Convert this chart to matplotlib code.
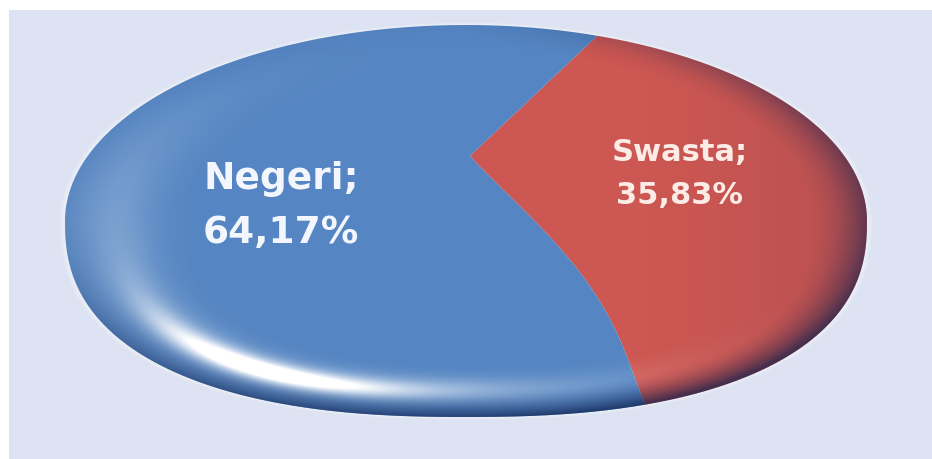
import numpy as np
import matplotlib.pyplot as plt
from matplotlib.patches import Rectangle, PathPatch
from matplotlib.path import Path
from matplotlib.transforms import Transform

# Share of schools by status (percent)
LABELS = ["Swasta", "Negeri"]
SHARES = [35.83, 64.17]
COLORS = ["#cd5752", "#5585c2"]
TEXT_COLORS = ["#fdebe6", "#f3f7fd"]

W, H = 932, 460
K = 0.55          # vertical foreshortening of the tilted disc
BG = "#dde3f2"

# disc outline and pie centre, in pixel units
CX, CY, A, B = 466, 222, 401, 196
N_LOW = 2.4       # lower half is fuller than an ellipse (disc thickness)
TIP = (470, 157)


def px(x, y):
    """pixel position -> data coordinates of the foreshortened axes"""
    return x, -y / K


class RimBend(Transform):
    """Bends slice edges as they run over the rounded rim."""
    input_dims = output_dims = 2

    def transform_non_affine(self, xy):
        xy = np.array(xy, dtype=float)
        py = -xy[:, 1] * K
        s = np.clip((py - TIP[1]) / (418 - TIP[1]), 0, 1)
        xy[:, 0] += 30 * np.sin(np.pi * s) ** 1.2
        return xy

    def transform_path_non_affine(self, path):
        polys = path.to_polygons(closed_only=True)
        verts, codes = [], []
        for poly in polys:
            dense = []
            for p0, p1 in zip(poly[:-1], poly[1:]):
                tt = np.linspace(0, 1, 80, endpoint=False)[:, None]
                dense.append(p0 + (p1 - p0) * tt)
            dense.append(poly[-1:])
            dense = np.vstack(dense)
            verts.append(self.transform_non_affine(dense))
            c = np.full(len(dense), Path.LINETO)
            c[0] = Path.MOVETO
            codes.append(c)
        return Path(np.vstack(verts), np.concatenate(codes))


fig = plt.figure(figsize=(W / 100, H / 100), dpi=100)
fig.patch.set_facecolor("white")
ax = fig.add_axes([0, 0, 1, 1])
ax.axis("off")

ax.add_patch(Rectangle(px(9, H + 20), W + 20, (H + 20 - 11) / K, facecolor=BG,
                       edgecolor="none", zorder=0))

# outline of the disc: elliptic top, fuller bottom
ang = np.linspace(0, 2 * np.pi, 721)
cu, sv = np.cos(ang), np.sin(ang)
ou = np.sign(cu) * np.abs(cu) ** np.where(sv > 0, 2 / N_LOW, 1.0)
ov = np.sign(sv) * np.abs(sv) ** np.where(sv > 0, 2 / N_LOW, 1.0)
outline = np.column_stack([CX + A * ou, -(CY + B * ov) / K])
disc = PathPatch(Path(outline, closed=False), transform=ax.transData)

# soft halo round the disc
for grow, alpha in [(1.012, 0.20), (1.006, 0.25)]:
    halo = np.column_stack([CX + A * grow * ou, -(CY + B * grow * ov) / K])
    ax.add_patch(PathPatch(Path(halo), facecolor="white", edgecolor="none",
                           alpha=alpha, zorder=0.5))

wedges, _ = ax.pie(SHARES, colors=COLORS, startangle=59.8, counterclock=False,
                   center=px(*TIP), radius=1200,
                   wedgeprops=dict(linewidth=0, antialiased=True))
bend = RimBend()
for w in wedges:
    w.set_transform(bend + ax.transData)
    w.set_clip_on(True)
    w.set_clip_path(disc)
    w.set_zorder(1)

# bevel shading: darker rim, glare at lower left
yy, xx = np.mgrid[0:H, 0:W] + 0.5
u = (xx - CX) / A
v = (yy - CY) / B
r = np.where(v > 0, (np.abs(u) ** N_LOW + np.abs(v) ** N_LOW) ** (1 / N_LOW),
             np.hypot(u, v)) + 1e-9
theta = np.degrees(np.arctan2(v, u))
down = np.clip(v / r, 0, 1)
right = np.clip(u / r, 0, 1)

t = np.clip((r - 0.86) / 0.14, 0, 1)
dark = t ** 1.8 * (0.03 + 0.62 * down ** 1.5 + 0.40 * right)
dark += 0.13 * np.clip((xx - 620) / 250, 0, 1) ** 1.5
shade = np.zeros((H, W, 4))
shade[..., 0:3] = [0.05, 0.12, 0.30]
shade[..., 3] = np.clip(dark, 0, 0.7)

dth = (theta - 124 + 180) % 360 - 180
glare = 1.0 * np.exp(-0.5 * (dth / 15) ** 2) * np.exp(-0.5 * ((r - 0.87) / 0.03) ** 2)
glare += 0.45 * np.exp(-0.5 * ((dth + 10) / 30) ** 2) * np.exp(-0.5 * ((r - 0.86) / 0.045) ** 2)
lft = (theta - 180 + 180) % 360 - 180
glare += 0.18 * np.exp(-0.5 * (lft / 30) ** 2) * np.exp(-0.5 * ((r - 0.88) / 0.08) ** 2)
shine = np.ones((H, W, 4))
shine[..., 3] = np.clip(glare, 0, 1)

ext = (0, W, -H / K, 0)
for img, z in [(shade, 2), (shine, 3)]:
    im = ax.imshow(img, extent=ext, origin="upper", aspect="auto",
                   interpolation="bilinear", zorder=z)
    im.set_clip_path(disc)

# slice labels
LABEL_POS = [(281, 206), (680, 174)][::-1]
LABEL_SIZE = [22, 27]
for lab, share, pos, size, col in zip(LABELS, SHARES, LABEL_POS, LABEL_SIZE, TEXT_COLORS):
    txt = f"{lab};\n{share:.2f}%".replace(".", ",")
    ax.text(*px(*pos), txt, ha="center", va="center", fontsize=size,
            fontweight="bold", color=col, linespacing=1.65,
            family="DejaVu Sans", zorder=5)

ax.set_xlim(0, W)
ax.set_ylim(-H / K, 0)
ax.set_aspect("auto")

fig.savefig("out.png", dpi=100, facecolor="white")
